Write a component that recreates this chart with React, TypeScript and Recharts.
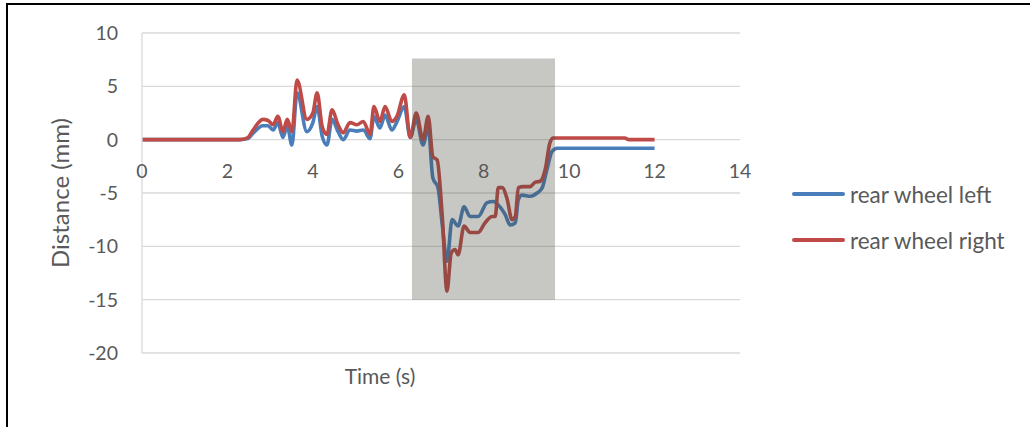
import {
  LineChart,
  Line,
  XAxis,
  YAxis,
  CartesianGrid,
  ReferenceArea,
  ReferenceDot,
} from "recharts";

// time (s) and displacement (mm) of each rear wheel
const LEFT_T = [
  0, 2.3, 2.48, 2.6, 2.83, 2.95, 3.07, 3.18, 3.3, 3.4, 3.51, 3.63, 3.86, 4.0, 4.1, 4.22, 4.33, 4.45,
  4.59, 4.71, 4.87, 5.03, 5.18, 5.34, 5.43, 5.57, 5.69, 5.85, 5.97, 6.14, 6.28, 6.42, 6.58, 6.7,
  6.81, 6.93, 7.03, 7.14, 7.26, 7.4, 7.54, 7.68, 7.87, 8.08, 8.22, 8.38, 8.5, 8.62, 8.74, 8.81, 8.9,
  9.09, 9.25, 9.37, 9.48, 9.6, 9.72, 12.0,
];
const LEFT_MM = [
  0, 0, 0.1, 0.6, 1.3, 1.3, 0.9, 1.6, 0.2, 1.3, -0.5, 4.4, 0.75, 1.6, 3.1, 0.3, -0.5, 1.9,
  0.75, 0, 0.9, 0.8, 0.9, 0.1, 2.2, 1.1, 2.3, 0.9, 1.7, 3.1, 0.2, 1.9, -0.5, 1.2,
  -3.6, -4.5, -8, -11.4, -7.5, -8.1, -6.3, -7.2, -7.2, -5.9, -5.8, -6.3, -7.0, -8.0, -7.8, -5.6, -5.2,
  -5.3, -5.0, -4.5, -2.8, -1.1, -0.8, -0.8,
];
const RIGHT_T = [
  0, 2.3, 2.48, 2.6, 2.83, 2.95, 3.07, 3.18, 3.3, 3.4, 3.51, 3.63, 3.86, 4.0, 4.1, 4.22, 4.33, 4.45,
  4.59, 4.71, 4.87, 5.03, 5.18, 5.34, 5.43, 5.57, 5.69, 5.85, 5.97, 6.14, 6.28, 6.42, 6.58, 6.7,
  6.81, 6.91, 7.03, 7.14, 7.24, 7.33, 7.4, 7.54, 7.68, 7.87, 8.03, 8.2, 8.27, 8.34, 8.43, 8.55, 8.66,
  8.74, 8.81, 8.93, 9.09, 9.2, 9.32, 9.44, 9.55, 9.63, 11.3, 11.4, 12.0,
];
const RIGHT_MM = [
  0, 0, 0.2, 0.9, 1.9, 1.8, 1.4, 2.2, 0.75, 1.9, 0.75, 5.6, 1.9, 2.5, 4.4, 1.2, 0.5, 2.8,
  1.4, 0.65, 1.6, 1.4, 1.7, 0.5, 3.1, 1.7, 3.1, 1.7, 2.2, 4.2, 0.2, 2.5, 0, 2.2,
  -1.6, -1.9, -7.2, -14.2, -10.6, -10.3, -10.8, -8.1, -8.7, -8.7, -7.8, -7.2, -7.2, -4.5, -4.5, -5.6, -7.5,
  -7.2, -4.5, -4.4, -4.4, -4.0, -3.9, -2.8, -0.3, 0.15, 0.15, 0, 0,
];

const X_TICKS = [0, 2, 4, 6, 8, 10, 12, 14];
const Y_TICKS = [-20, -15, -10, -5, 0, 5, 10];

// shaded time window
const WINDOW_T = [6.32, 9.67];
const WINDOW_MM = [-15, 7.6];

const SERIES = [
  { key: "left", name: "rear wheel left", color: "#4a7ebb", t: LEFT_T, mm: LEFT_MM },
  { key: "right", name: "rear wheel right", color: "#be4b48", t: RIGHT_T, mm: RIGHT_MM },
];

const FONT = "Lato, 'Open Sans', sans-serif";
const TEXT = "#595959";
const GRID = "#d9d9d9";

function LegendBox() {
  return (
    <div
      style={{
        position: "absolute",
        left: 792,
        top: 171,
        fontFamily: FONT,
        fontSize: 22.5,
        color: TEXT,
      }}
    >
      {SERIES.map((s) => (
        <div key={s.key} style={{ display: "flex", alignItems: "center", height: 46 }}>
          <span
            style={{
              display: "inline-block",
              width: 53,
              height: 4,
              borderRadius: 2,
              background: s.color,
              marginRight: 5,
            }}
          />
          <span>{s.name}</span>
        </div>
      ))}
    </div>
  );
}

export default function App() {
  return (
    <div
      style={{
        position: "absolute",
        left: 0,
        top: 0,
        width: 1030,
        height: 427,
        background: "#fff",
        overflow: "hidden",
      }}
    >
      <div
        style={{
          position: "absolute",
          left: 6,
          top: 3,
          right: -4,
          bottom: -4,
          borderTop: "2px solid #000",
          borderLeft: "2px solid #000",
        }}
      />
      <LineChart
        width={1030}
        height={427}
        margin={{ top: 33, right: 290, bottom: 26, left: 62 }}
        style={{ position: "absolute", left: 0, top: 0 }}
      >
        <CartesianGrid vertical={false} stroke={GRID} strokeWidth={1.3} />
        <XAxis
          type="number"
          dataKey="t"
          domain={[0, 14]}
          ticks={X_TICKS}
          tick={false}
          axisLine={false}
          tickLine={false}
          height={48}
          allowDuplicatedCategory={false}
          label={{
            value: "Time (s)",
            position: "center",
            dx: -61,
            fill: TEXT,
            fontSize: 21,
            fontFamily: FONT,
          }}
        />
        <YAxis
          type="number"
          domain={[-20, 10]}
          ticks={Y_TICKS}
          width={80}
          tickLine={false}
          tickMargin={18}
          axisLine={{ stroke: GRID, strokeWidth: 1.3 }}
          tick={{ fill: TEXT, fontSize: 19.5, fontFamily: FONT }}
          label={{
            value: "Distance (mm)",
            angle: -90,
            position: "center",
            dx: -42,
            fill: TEXT,
            fontSize: 24,
            fontFamily: FONT,
          }}
        />
        {SERIES.map((s) => (
          <Line
            key={s.key}
            data={s.t.map((t, i) => ({ t, v: s.mm[i] }))}
            dataKey="v"
            name={s.name}
            type="monotone"
            stroke={s.color}
            strokeWidth={3.6}
            dot={false}
            activeDot={false}
            isAnimationActive={false}
          />
        ))}
        {/* translucent window sits over the traces */}
        <ReferenceArea
          x1={WINDOW_T[0]}
          x2={WINDOW_T[1]}
          y1={WINDOW_MM[0]}
          y2={WINDOW_MM[1]}
          fill="rgb(68,68,55)"
          fillOpacity={0.3}
          stroke="none"
          zIndex={900}
        />
        {X_TICKS.map((t) => (
          <ReferenceDot
            key={t}
            x={t}
            y={0}
            r={0}
            stroke="none"
            label={{
              value: t,
              position: "bottom",
              offset: 24,
              fill: TEXT,
              fontSize: 19.5,
              fontFamily: FONT,
            }}
          />
        ))}
      </LineChart>
      <LegendBox />
    </div>
  );
}
